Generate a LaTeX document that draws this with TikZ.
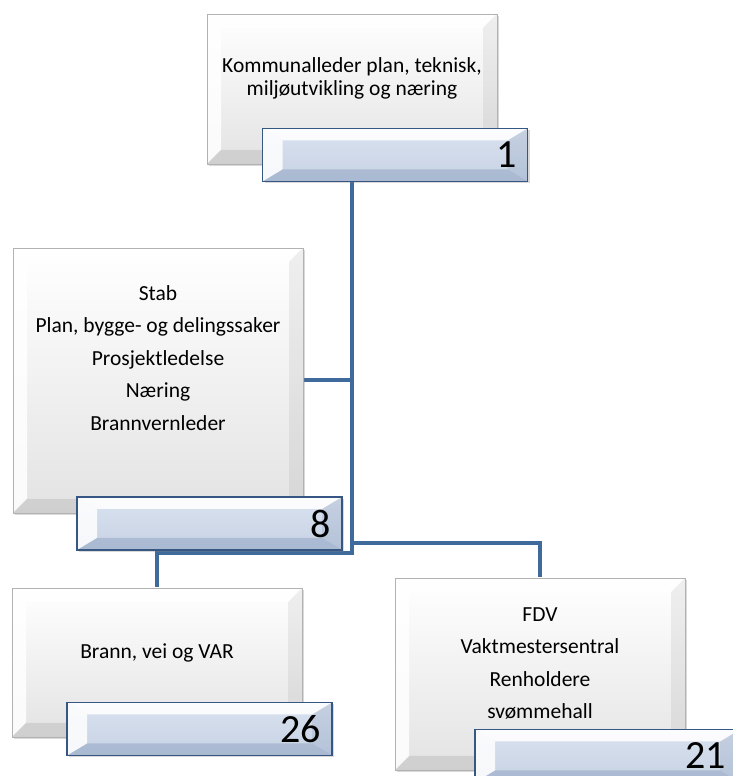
\documentclass[tikz,border=0pt]{standalone}
\usepackage{fontspec}
\setmainfont{Carlito}
\usetikzlibrary{positioning,calc,shadows,backgrounds}
\definecolor{linkblue}{RGB}{63,106,156}
\definecolor{countfill}{RGB}{198,210,229}
\definecolor{countedge}{RGB}{54,86,132}

\tikzset{
	bevel/.style n args={3}{path picture={
		\coordinate (bnw) at (path picture bounding box.north west);
		\coordinate (bne) at (path picture bounding box.north east);
		\coordinate (bsw) at (path picture bounding box.south west);
		\coordinate (bse) at (path picture bounding box.south east);
		\fill[white,opacity=.9] (bnw) -- (bne) -- ($(bne)+(-#1pt,-#2pt)$) -- ($(bnw)+(#1pt,-#2pt)$) -- cycle;
		\fill[white,opacity=.85] (bnw) -- (bsw) -- ($(bsw)+(#1pt,#2pt)$) -- ($(bnw)+(#1pt,-#2pt)$) -- cycle;
		\fill[#3,opacity=.12] (bne) -- (bse) -- ($(bse)+(-#1pt,#2pt)$) -- ($(bne)+(-#1pt,-#2pt)$) -- cycle;
		\fill[#3,opacity=.2] (bsw) -- (bse) -- ($(bse)+(-#1pt,#2pt)$) -- ($(bsw)+(#1pt,#2pt)$) -- cycle;
	}},
	unit/.style={rectangle, draw=gray!60, line width=.8pt, top color=white, bottom color=gray!22,
		bevel={14}{14}{gray}, minimum width=290pt,
		drop shadow={opacity=.3, shadow xshift=2pt, shadow yshift=-2pt}},
	unittext/.style={align=center, font=\fontsize{21.5}{#1}\selectfont},
	unittext/.default=23.5,
	count/.style={rectangle, draw=countedge, line width=1.5pt, top color=countfill!65!white,
		bottom color=countfill, bevel={20}{12}{countedge}, minimum width=265pt, minimum height=53pt,
		inner xsep=11pt, text width=243pt, align=right, font=\fontsize{40}{40}\selectfont,
		drop shadow={opacity=.3, shadow xshift=2pt, shadow yshift=-2pt}},
	link/.style={draw=linkblue, line width=4pt}
}

\begin{document}
\begin{tikzpicture}[x=1pt,y=1pt]
	\useasboundingbox (0,0) rectangle (732,776);

	% leder
	\node[unit, minimum height=150pt] (leder) at (352,687) {};
	\node[unittext] (leder-text) at ([yshift=10.5pt]leder.center) {Kommunalleder plan, teknisk,\\miljøutvikling og næring};
	\node[count] (leder-n) at (395,621) {1};

	% stab
	\node[unit, minimum height=265pt] (stab) at (158,395.5) {};
	\node[unittext=32.5] (stab-text) at ([yshift=22.5pt]stab.center)
		{Stab\\Plan, bygge- og delingssaker\\Prosjektledelse\\Næring\\Brannvernleder};
	\node[count] (stab-n) at (209.5,252.5) {8};

	% brann, vei og VAR
	\node[unit, minimum height=149pt] (brann) at (157,113.5) {};
	\node[unittext] (brann-text) at ([yshift=9.5pt]brann.center) {Brann, vei og VAR};
	\node[count] (brann-n) at (199.5,47) {26};

	% FDV
	\node[unit, minimum height=192pt] (fdv) at (540,102) {};
	\node[unittext=32.5] (fdv-text) at ([yshift=10.5pt]fdv.center)
		{FDV\\Vaktmestersentral\\Renholdere\\svømmehall};
	\node[count, inner xsep=14pt, text width=237pt] (fdv-n) at (607.5,20) {21};

	\begin{scope}[on background layer]
		\coordinate (split) at (leder.south |- 0,223);
		\coordinate (fork) at (leder.south |- 0,233);
		\draw[link] (leder.south) -- (split) -| (brann.north);
		\draw[link] (stab.east) -- (stab.east -| leder.south);
		\draw[link] (fork) -| (fdv.north);
	\end{scope}
\end{tikzpicture}
\end{document}
